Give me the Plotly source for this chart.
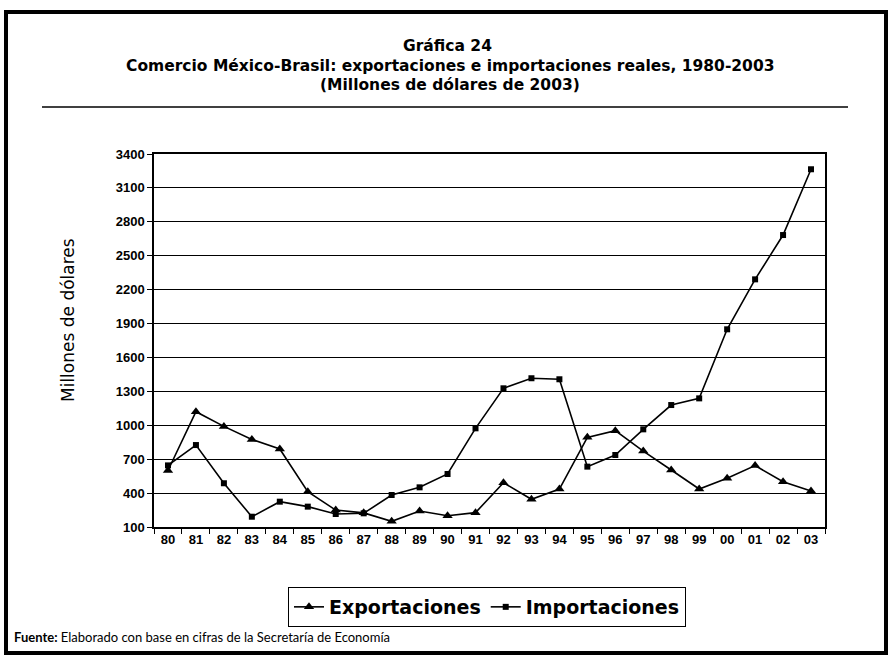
import plotly.graph_objects as go

years = ["80","81","82","83","84","85","86","87","88","89","90","91",
         "92","93","94","95","96","97","98","99","00","01","02","03"]
exportaciones = [600, 1120, 990, 875, 790, 412, 250, 225, 150, 242, 200, 227,
                 492, 345, 436, 893, 952, 772, 604, 436, 531, 643, 501, 418]
importaciones = [645, 825, 487, 191, 324, 280, 215, 221, 383, 451, 569, 973,
                 1327, 1416, 1407, 634, 737, 964, 1179, 1238, 1849, 2291, 2683, 3265]
y_ticks = list(range(100, 3401, 300))

W, H = 891, 659
L, R, T, B = 154, 825, 154, 527

def xp(px):
    return (px - L) / (R - L)

def yp(py):
    return (B - py) / (B - T)

fig = go.Figure()
fig.add_trace(go.Scatter(x=years, y=exportaciones, mode="lines+markers",
                         name="Exportaciones",
                         line=dict(color="black", width=1.6),
                         marker=dict(symbol="triangle-up", size=9, color="black")))
fig.add_trace(go.Scatter(x=years, y=importaciones, mode="lines+markers",
                         name="Importaciones",
                         line=dict(color="black", width=1.6),
                         marker=dict(symbol="square", size=6, color="black")))

tfont = dict(family="DejaVu Sans", size=15.5, color="black", weight="bold")
ann = [
    dict(text="Gráfica 24", x=xp(447), y=yp(46), font=tfont),
    dict(text="Comercio México-Brasil: exportaciones e importaciones reales, 1980-2003",
         x=xp(450), y=yp(66), font=tfont),
    dict(text="(Millones de dólares de 2003)", x=xp(450), y=yp(85), font=tfont),
    dict(text="Millones de dólares", x=xp(68), y=yp(320), textangle=-90,
         font=dict(family="DejaVu Sans", size=17, color="black")),
    dict(text="<b>Fuente:</b> Elaborado con base en cifras de la Secretaría de Economía",
         x=xp(12), y=yp(637), xanchor="left",
         font=dict(family="Lato", size=13, color="black")),
]
for a in ann:
    a.update(xref="paper", yref="paper", showarrow=False)
    a.setdefault("xanchor", "center")
    a.setdefault("yanchor", "middle")

shapes = [
    dict(type="rect", xref="paper", yref="paper",
         x0=xp(6), x1=xp(886), y0=yp(12), y1=yp(653),
         line=dict(color="black", width=4)),
    dict(type="line", xref="paper", yref="paper",
         x0=xp(42), x1=xp(848), y0=yp(107), y1=yp(107),
         line=dict(color="black", width=1.5)),
]

fig.update_layout(
    width=W, height=H,
    margin=dict(l=L, r=W - R, t=T, b=H - B),
    paper_bgcolor="white", plot_bgcolor="white",
    showlegend=True,
    legend=dict(orientation="h", x=xp(487), y=yp(587), xanchor="center", yanchor="top",
                bordercolor="black", borderwidth=1, bgcolor="white",
                font=dict(family="DejaVu Sans", size=19, color="black", weight="bold"),
                itemwidth=30, tracegroupgap=0),
    annotations=ann,
    shapes=shapes,
    xaxis=dict(type="category", range=[-0.5, 23.5], tickson="boundaries",
               ticks="outside", ticklen=5, tickcolor="black",
               showline=True, linecolor="black", linewidth=1.5, mirror=True,
               showgrid=False, tickangle=0,
               tickfont=dict(family="Liberation Sans", size=13, color="black", weight="bold")),
    yaxis=dict(range=[100, 3400], tickvals=y_ticks, ticks="outside", ticklen=5,
               tickcolor="black", showline=True, linecolor="black", linewidth=1.5,
               mirror=True, showgrid=True, gridcolor="black", gridwidth=1.3,
               zeroline=False,
               tickfont=dict(family="Liberation Sans", size=13, color="black", weight="bold")),
)

fig.write_html("out.html")
